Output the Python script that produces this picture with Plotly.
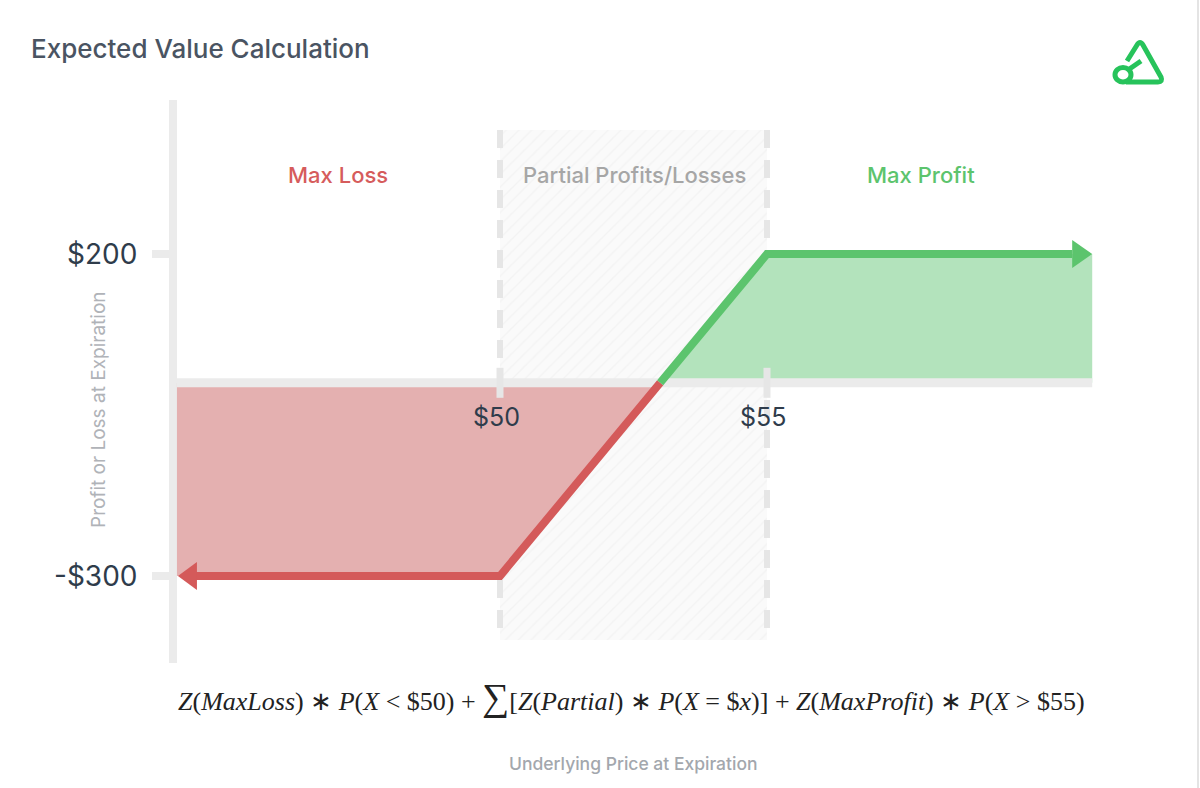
import plotly.graph_objects as go

# ---------------- data ----------------
strikes = [50, 55]
strike_labels = ["$50", "$55"]
y_tick_values = [200, -300]
y_tick_labels = ["$200", "-$300"]
max_loss = -300
max_profit = 200
breakeven = 53
price_min = 43.95
price_max = 61.09
payoff_x = [price_min, 50, breakeven, 55, price_max]
payoff_y = [max_loss, max_loss, 0, max_profit, max_profit]
region_labels = ["Max Loss", "Partial Profits/Losses", "Max Profit"]
region_colors = ["#d65c5c", "#a6a6a6", "#5cc46d"]

# ---------------- layout constants ----------------
W, H = 1200, 788
XPX = 53.4          # pixels per dollar on x
YPX = 0.644         # pixels per dollar on y
X50_PX = 500        # pixel of $50
ZERO_PX = 382.8     # pixel row of $0
x_range = [50 - X50_PX / XPX, 50 + (W - X50_PX) / XPX]
y_range = [-(H - ZERO_PX) / YPX, ZERO_PX / YPX]


def dx(p):
    return p / XPX


def dy(p):
    return p / YPX


def yv(py):  # pixel row -> data value
    return (ZERO_PX - py) / YPX


def P(px, py):  # pixel -> paper
    return px / W, 1 - py / H


RED_LINE = "#d45a5a"
RED_FILL = "#e4b0b0"
GREEN_LINE = "#5cc46d"
GREEN_FILL = "#b3e3bc"
AXIS_GRAY = "#ebebeb"
FONT = "Inter"

fig = go.Figure()

# hatched partial zone
top, bot = yv(130), yv(640)
fig.add_trace(go.Scatter(
    x=[strikes[0], strikes[1], strikes[1], strikes[0], strikes[0]],
    y=[top, top, bot, bot, top], mode="lines", fill="toself",
    line=dict(width=0), fillcolor="#f8f8f8",
    fillpattern=dict(shape="/", fgcolor="#ebebeb", bgcolor="#fafafa",
                     size=9, solidity=0.15)))

# dashed strike lines
for s in strikes:
    fig.add_trace(go.Scatter(x=[s, s], y=[top, bot], mode="lines",
                             line=dict(color="#e6e6e6", width=6, dash="18px,12px")))

# loss / profit fills
loss_x = [x for x, y in zip(payoff_x, payoff_y) if x <= breakeven]
loss_y = [y for x, y in zip(payoff_x, payoff_y) if x <= breakeven]
fig.add_trace(go.Scatter(x=[price_min] + loss_x, y=[0] + loss_y, mode="lines",
                         fill="toself", fillcolor=RED_FILL, line=dict(width=0)))
gain_x = [x for x, y in zip(payoff_x, payoff_y) if x >= breakeven]
gain_y = [y for x, y in zip(payoff_x, payoff_y) if x >= breakeven]
fig.add_trace(go.Scatter(x=gain_x + [price_max], y=gain_y + [0], mode="lines",
                         fill="toself", fillcolor=GREEN_FILL, line=dict(width=0)))

# zero line
fig.add_trace(go.Scatter(x=[price_min, price_max], y=[0, 0], mode="lines",
                         line=dict(color=AXIS_GRAY, width=9)))

# x ticks at strikes
for s in strikes:
    fig.add_trace(go.Scatter(x=[s, s], y=[dy(15), -dy(15)], mode="lines",
                             line=dict(color="#e6e6e6", width=7)))

# payoff lines
fig.add_trace(go.Scatter(x=[price_min + dx(19)] + loss_x[1:], y=loss_y, mode="lines",
                         line=dict(color=RED_LINE, width=8)))
fig.add_trace(go.Scatter(x=gain_x[:-1] + [price_max - dx(20)], y=gain_y, mode="lines",
                         line=dict(color=GREEN_LINE, width=8)))

# arrow heads
fig.add_trace(go.Scatter(
    x=[price_min + dx(1), price_min + dx(20), price_min + dx(20), price_min + dx(1)],
    y=[max_loss, max_loss + dy(14), max_loss - dy(14), max_loss],
    mode="lines", fill="toself", fillcolor=RED_LINE, line=dict(width=0)))
fig.add_trace(go.Scatter(
    x=[price_max, price_max - dx(20), price_max - dx(20), price_max],
    y=[max_profit, max_profit + dy(14), max_profit - dy(14), max_profit],
    mode="lines", fill="toself", fillcolor=GREEN_LINE, line=dict(width=0)))

shapes = []
# y axis line
x0, y0 = P(173, 100)
_, y1 = P(173, 663)
shapes.append(dict(type="line", xref="paper", yref="paper", x0=x0, x1=x0, y0=y0, y1=y1,
                   line=dict(color=AXIS_GRAY, width=8), layer="below"))
# y ticks
for v in y_tick_values:
    shapes.append(dict(type="line", xref="paper", yref="y", x0=152 / W, x1=172 / W, y0=v, y1=v,
                       line=dict(color=AXIS_GRAY, width=8), layer="below"))
# right border
shapes.append(dict(type="line", xref="paper", yref="paper", x0=1198 / W, x1=1198 / W, y0=0, y1=1,
                   line=dict(color="#e4e4e4", width=2)))


# logo
def pp(px, py):
    a, b = P(px, py)
    return f"{a:.5f},{b:.5f}"


LOGO = "#27c35b"
logo = (f"M{pp(1127,61)} L{pp(1137,45)} Q{pp(1140,40)} {pp(1143,45)} "
        f"L{pp(1161,77)} Q{pp(1163,82)} {pp(1158,82)} L{pp(1126,82)}")
shapes.append(dict(type="path", xref="paper", yref="paper", path=logo,
                   line=dict(color=LOGO, width=5)))
shapes.append(dict(type="path", xref="paper", yref="paper",
                   path=f"M{pp(1128,70)} L{pp(1141,61)}",
                   line=dict(color=LOGO, width=5)))
cx0, cy0 = P(1115, 67.5)
cx1, cy1 = P(1131, 82)
shapes.append(dict(type="circle", xref="paper", yref="paper", x0=cx0, y0=cy1, x1=cx1, y1=cy0,
                   line=dict(color=LOGO, width=5)))

annotations = []


def text(px, py, t, size, color, weight=400, family=FONT, angle=0, xanchor="center"):
    a, b = P(px, py)
    annotations.append(dict(x=a, y=b, xref="paper", yref="paper", text=t, showarrow=False,
                            xanchor=xanchor, yanchor="middle", textangle=angle,
                            font=dict(size=size, color=color, family=family, weight=weight)))


text(29, 49, "Expected Value Calculation", 26, "#4a5462", 500, xanchor="left")
for lbl, col, cx in zip(region_labels, region_colors, [338, 634, 921]):
    text(cx, 175, lbl, 22, col, 500)
for v, lbl in zip(y_tick_values, y_tick_labels):
    annotations.append(dict(x=139 / W, y=v, xref="paper", yref="y", text=lbl, showarrow=False,
                            xanchor="right", yanchor="middle",
                            font=dict(size=28, color="#2f3c4b", family=FONT)))
for s, lbl in zip(strikes, strike_labels):
    annotations.append(dict(x=s - dx(4), y=yv(417), xref="x", yref="y", text=lbl, showarrow=False,
                            xanchor="center", yanchor="middle",
                            font=dict(size=25, color="#2f3c4b", family=FONT)))
text(99, 410, "Profit or Loss at Expiration", 19, "#b0b3b8", 400, angle=-90)
text(633, 763, "Underlying Price at Expiration", 17.5, "#a3a7ad", 500)

formula = ("<i>Z</i>(<i>MaxLoss</i>) ∗ <i>P</i>(<i>X</i> &lt; $50) + "
           "<span style='font-size:38px'>∑</span>[<i>Z</i>(<i>Partial</i>) ∗ <i>P</i>(<i>X</i> = $<i>x</i>)] + "
           "<i>Z</i>(<i>MaxProfit</i>) ∗ <i>P</i>(<i>X</i> &gt; $55)")
text(631, 697, formula, 26, "#222222", 400, family="Liberation Serif")

fig.update_layout(
    width=W, height=H, margin=dict(l=0, r=0, t=0, b=0),
    paper_bgcolor="white", plot_bgcolor="white", showlegend=False, hovermode=False,
    xaxis=dict(range=x_range, visible=False, fixedrange=True),
    yaxis=dict(range=y_range, visible=False, fixedrange=True),
    shapes=shapes, annotations=annotations,
)

fig.write_html("out.html", config={"displayModeBar": False})
